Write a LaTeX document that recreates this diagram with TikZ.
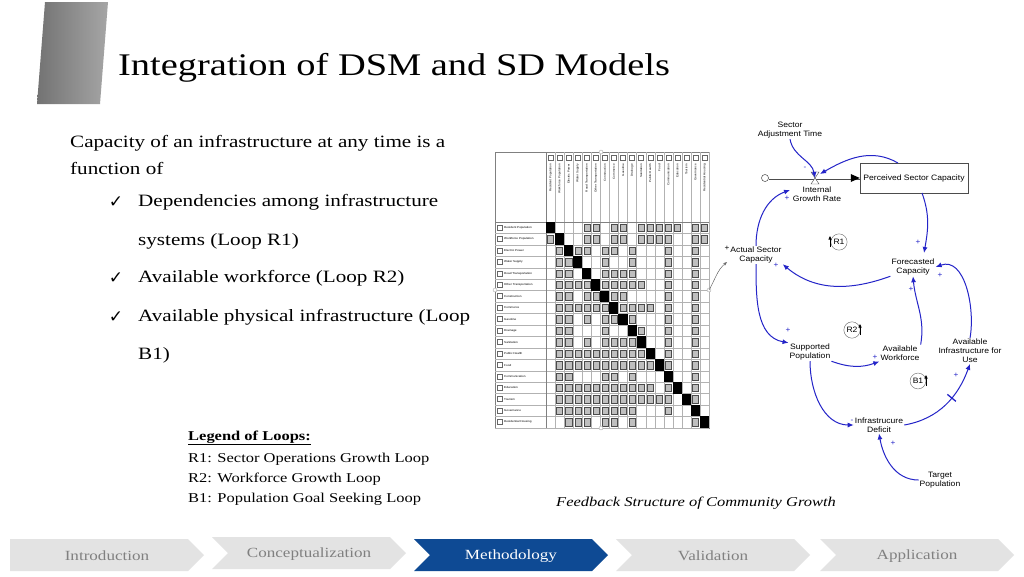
\documentclass[tikz,border=0pt]{standalone}
\usepackage{fontspec}
\setmainfont[FakeStretch=1.22]{Liberation Serif}
\setsansfont[FakeStretch=1.1]{Liberation Sans}
\newfontfamily\dejavu{DejaVu Sans}
\usetikzlibrary{arrows.meta,calc}
\definecolor{navgray}{HTML}{E3E3E3}
\definecolor{navtext}{HTML}{808080}
\definecolor{navblue}{HTML}{0E4A94}
\definecolor{cld}{HTML}{2424C8}
\tikzset{
  lbl/.style={font=\sffamily\fontsize{7.8}{8.8}\selectfont, align=center, inner sep=1pt},
  link/.style={cld, line width=1pt, -{Latex[length=6pt,width=5pt]}},
  pol/.style={cld, font=\sffamily\fontsize{7.5}{7.5}\selectfont, inner sep=0pt},
  body/.style={font=\fontsize{17.3}{18}\selectfont, anchor=west, inner sep=0pt},
  chk/.style={font=\dejavu\bfseries\fontsize{17}{17}\selectfont, inner sep=0pt},
  leg/.style={font=\fontsize{13.5}{15}\selectfont, anchor=west, inner sep=0pt},
  navtxt/.style={font=\fontsize{14}{14}\selectfont, text=navtext},
  gbox/.style={draw=black!70, fill=black!25, line width=0.3pt},
  tiny/.style={font=\sffamily\fontsize{2.8}{3}\selectfont, inner sep=0pt},
  loopmark/.style={black, line width=0.7pt, -{Triangle[length=3.5pt,width=3pt]}}
}
\begin{document}
\begin{tikzpicture}[x=1pt,y=-1pt]
\useasboundingbox (0,0) rectangle (1024,576);
\fill[white] (0,0) rectangle (1024,576);
% title band
\shade[left color=black!55, right color=black!35] (45,2) -- (108,2) -- (100,104) -- (37,104) -- cycle;
\node[anchor=west, font=\fontsize{31.5}{36}\selectfont, inner sep=0pt] (title) at (118,68) {Integration of DSM and SD Models};
% body text
\node[body] (t1) at (70,143) {Capacity of an infrastructure at any time is a};
\node[body] (t2) at (70,168) {function of};
\node[chk] (k1) at (116,202) {✓};
\node[body] (c1) at (138,202) {Dependencies among infrastructure};
\node[body] (t3) at (138,241) {systems (Loop R1)};
\node[chk] (k2) at (116,278) {✓};
\node[body] (c2) at (138,278) {Available workforce (Loop R2)};
\node[chk] (k3) at (116,317) {✓};
\node[body] (c3) at (138,317) {Available physical infrastructure (Loop};
\node[body] (t4) at (138,355) {B1)};
% legend
\node[leg, font=\bfseries\fontsize{13.5}{15}\selectfont] (l0) at (188,438) {\underline{Legend of Loops:}};
\node[leg] (l1) at (188,459) {R1: Sector Operations Growth Loop};
\node[leg] (l2) at (188,479) {R2: Workforce Growth Loop};
\node[leg] (l3) at (188,499) {B1: Population Goal Seeking Loop};
\node[font=\itshape\fontsize{13.5}{15}\selectfont, inner sep=0pt] (cap) at (696,503) {Feedback Structure of Community Growth};
% DSM
\def\xo{546}\def\yo{222}\def\cw{9.06}\def\rh{11.44}
\draw[black!50, line width=0.4pt] (495,152) rectangle (709,428);
\foreach \i in {0,...,18} \draw[black!30, line width=0.3pt] (\xo+\i*\cw,152) -- (\xo+\i*\cw,428);
\foreach \j in {0,...,18} \draw[black!30, line width=0.3pt] (495,\yo+\j*\rh) -- (709,\yo+\j*\rh);
\draw[black!50, line width=0.4pt] (495,222) -- (709,222) (546,152) -- (546,428);
\foreach \n [count=\k] in {Resident Population,Workforce Population,Electric Power,Water Supply,Road Transportation,Other Transportation,Construction,Commerce,Gasoline,Drainage,Sanitation,Public Health,Food,Communication,Education,Tourism,Governance,Residential Housing}{
  \draw[black!60, line width=0.3pt] (497.5,\yo+\k*\rh-\rh+3) rectangle +(5,5);
  \node[tiny, anchor=west] at (504,\yo+\k*\rh-\rh/2) {\n};
  \draw[black!60, line width=0.3pt] (\xo+\k*\cw-\cw+2,155) rectangle +(5,5);
  \node[tiny, anchor=east, rotate=90] at (\xo+\k*\cw-\cw/2,164) {\n};
  \fill[black] (\xo+\k*\cw-\cw,\yo+\k*\rh-\rh) rectangle +(\cw,\rh);
}
\foreach \r/\cs in {1/{5,6,8,9,11,12,13,14,15,17,18},2/{1,5,6,8,9,11,12,13,14,17,18},3/{2,4,5,7,8,10,14,17},4/{2,3,7,10,14,17},5/{2,3,7,8,9,10,14,17},6/{2,3,4,5,7,8,9,10,11,14,17},7/{2,3,5,6,8,9,14,17},8/{2,3,4,5,6,7,9,10,11,12,14,17},9/{2,3,5,7,8,10,14,17},10/{2,3,7,11,14,17},11/{2,3,5,7,8,9,10,14,17},12/{2,3,4,5,6,7,8,9,10,11,14,17},13/{2,3,4,5,6,7,8,9,10,11,12,14,17},14/{2,3,7,8,10,17},15/{2,3,4,5,6,7,8,9,10,11,12,14,17},16/{2,3,4,5,6,7,8,9,10,11,12,13,14,17},17/{2,3,4,5,6,7,8,9,10,14},18/{3,4,5,7,8,10,17}}{
  \foreach \c in \cs \draw[gbox] (\xo+\c*\cw-\cw+1.5,\yo+\r*\rh-\rh+2) rectangle +(\cw-3,\rh-4);
}
\foreach \p in {(601,152),(601,428),(495,290),(709,290)} \draw[black!40, fill=white, line width=0.3pt] \p circle (2);
% CLD
\node[lbl] (sat) at (790,130) {Sector\\Adjustment Time};
\node[lbl, draw=black!70, line width=0.5pt, minimum width=108pt, minimum height=30pt] (psc) at (914,178) {Perceived Sector Capacity};
\node[draw=black!70, circle, inner sep=2.5pt, line width=0.5pt] (cloud) at (765,178) {};
\coordinate (valve) at (815,178);
\draw[black!70, double=white, double distance=2pt, line width=0.5pt] (cloud) -- (psc.west);
\fill[black] (psc.west) -- ++(-9,-4) -- ++(0,8) -- cycle;
\draw[black!70, line width=0.4pt, fill=white] (811,172) -- (819,172) -- (811,184) -- (819,184) -- cycle;
\node[lbl] (igr) at (817,194) {Internal\\Growth Rate};
\node[lbl] (asc) at (756,255) {Actual Sector\\Capacity};
\node[pol, black] at (727,248) {+};
\node[lbl] (fc) at (913,267) {Forecasted\\Capacity};
\node[lbl] (sp) at (810,352) {Supported\\Population};
\node[lbl] (aw) at (900,353) {Available\\Workforce};
\node[lbl] (aiu) at (970,351) {Available\\Infrastructure for\\Use};
\node[lbl] (id) at (879,425) {Infrastrucure\\Deficit};
\node[lbl] (tp) at (940,480) {Target\\Population};
% loop markers
\node[lbl, draw=black!60, circle, inner sep=1.5pt, line width=0.4pt] (r1) at (839,242) {R1};
\node[lbl, draw=black!60, circle, inner sep=1.5pt, line width=0.4pt] (r2) at (852,330) {R2};
\node[lbl, draw=black!60, circle, inner sep=1.5pt, line width=0.4pt] (b1) at (918,381) {B1};
\draw[loopmark] (830,247) -- (830,236);
\draw[loopmark] (860,335) -- (860,324);
\draw[loopmark] (926,386) -- (926,375);
% links
\draw[link] (sat.south) to[out=-80,in=100] (valve);
\draw[link] (898,163) to[out=150,in=30] (820,174);
\node[pol] at (805,168) {-}; \node[pol] at (826,172) {-};
\draw[link] (asc.north) to[out=90,in=200] (790,190);
\node[pol] at (787,198) {+};
\draw[link] (922,193) to[out=-70,in=80] (924,253);
\node[pol] at (918,242) {+};
\draw[link] (fc.south west) to[out=200,in=-40] (asc.south east);
\node[pol] at (776,265) {+};
\draw[link] (asc.south) to[out=-90,in=170] (sp.north west);
\node[pol] at (788,330) {+};
\draw[link] (sp.south east) to[out=-20,in=200] (aw.south west);
\node[pol] at (875,357) {+};
\draw[link] (aw.north east) to[out=80,in=-85] (fc.south);
\node[pol] at (911,289) {+};
\draw[link] (sp.south) to[out=-90,in=180] (id.west);
\node[pol] at (852,421) {-};
\draw[link] (id.east) to[out=10,in=-110] node[pos=0.6, sloped, draw=cld, line width=1.3pt, minimum width=0pt, minimum height=11pt, inner sep=0pt]{} (aiu.south);
\node[pol] at (956,375) {+};
\draw[link] (aiu.north) to[out=80,in=20] (fc.east);
\node[pol] at (940,275) {+};
\draw[link] (tp.west) to[out=180,in=-80] (id.south);
\node[pol] at (893,443) {+};
\draw[black!60, line width=0.5pt, -{Stealth[length=4pt]}] (709,290) to[out=60,in=220] (727,262);
% navigation
\foreach \nm/\xa/\ya/\t/\f/\tc in {n1/10/539/Introduction/navgray/navtext,n2/212/537/Conceptualization/navgray/navtext,n3/414/539/Methodology/navblue/white,n4/616/539/Validation/navgray/navtext,n5/820/539/Application/navgray/navtext}{
  \fill[\f] (\xa,\ya) -- ++(178,0) -- ++(16,16) -- ++(-16,16) -- ++(-178,0) \ifnum\xa>20 -- ++(16,-16)\fi -- cycle;
  \node[navtxt, text=\tc] (\nm) at (\xa+97,\ya+17) {\t};
}
\end{tikzpicture}
\end{document}
